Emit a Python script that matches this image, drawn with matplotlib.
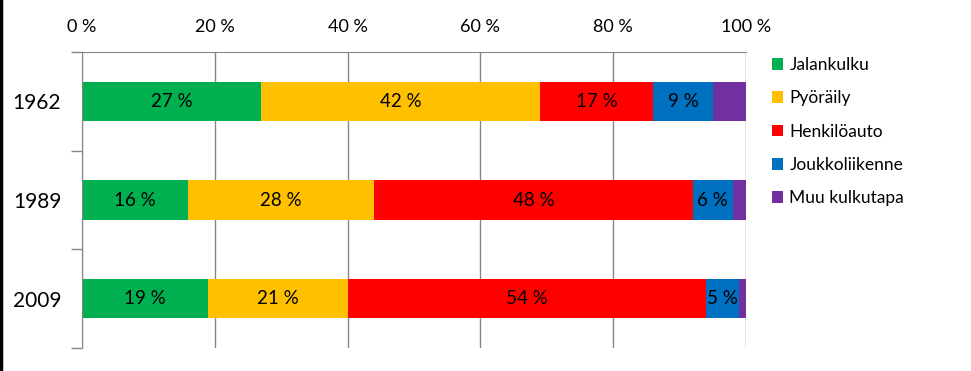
import numpy as np
import matplotlib
matplotlib.use('Agg')
import matplotlib.pyplot as plt
from matplotlib.lines import Line2D
from matplotlib.patches import Patch

# kulkutapaosuudet (%) vuosittain
years = ['1962', '1989', '2009']
modes = ['Jalankulku', 'Pyöräily', 'Henkilöauto', 'Joukkoliikenne', 'Muu kulkutapa']
jalankulku = [27, 16, 19]
pyoraily = [42, 28, 21]
henkiloauto = [17, 48, 54]
joukkoliikenne = [9, 6, 5]
muu = [5, 2, 1]
colors = ['#00B050', '#FFC000', '#FF0000', '#0070C0', '#7030A0']
show_label = [True, True, True, True, False]

plt.rcParams['font.family'] = ['Lato', 'DejaVu Sans']

fig = plt.figure(figsize=(9.71, 3.71), dpi=100)
ax = fig.add_axes([82 / 971, 1 - 348 / 371, (746 - 82) / 971, (348 - 52) / 371])

y = np.arange(len(years))
left = np.zeros(len(years))
for vals, c, lab, show in zip([jalankulku, pyoraily, henkiloauto, joukkoliikenne, muu],
                              colors, modes, show_label):
    vals = np.array(vals, dtype=float)
    ax.barh(y, vals, left=left, height=0.4, color=c, label=lab, zorder=2)
    if show:
        for yi, l, v in zip(y, left, vals):
            ax.text(l + v / 2, yi, f'{v:.0f} %', ha='center', va='center',
                    fontsize=13.5, color='black', zorder=3)
    left += vals

ax.set_xlim(0, 100)
ax.set_ylim(2.5, -0.5)
ax.set_xticks(np.arange(0, 101, 20))
ax.set_xticklabels([f'{t} %' for t in range(0, 101, 20)], fontsize=13)
ax.xaxis.tick_top()
ax.tick_params(axis='x', length=0, pad=12)
ax.grid(axis='x', color='#868686', linewidth=1, zorder=0)

ax.set_yticks(y)
ax.set_yticklabels(years, fontsize=15)
ax.set_yticks([-0.5, 0.5, 1.5, 2.5], minor=True)
ax.tick_params(axis='y', which='major', length=0, pad=15)
ax.tick_params(axis='y', which='minor', length=8, color='#868686', width=1)

for s in ['right', 'bottom']:
    ax.spines[s].set_visible(False)
ax.spines['top'].set_color('#868686')
ax.spines['left'].set_color('#868686')

handles = [Patch(facecolor=c, edgecolor='none') for c in colors]
fig.legend(handles, modes, loc='upper left', bbox_to_anchor=(765 / 971, 1 - 50 / 371),
           frameon=False, fontsize=12.5, handlelength=0.65, handleheight=0.65,
           handletextpad=0.35, labelspacing=1.0, borderaxespad=0)

# musta reunaviiva vasemmalla
fig.add_artist(Line2D([0.001, 0.001], [0, 1], transform=fig.transFigure,
                      color='black', linewidth=2.5))

fig.savefig('out.png', dpi=100)
